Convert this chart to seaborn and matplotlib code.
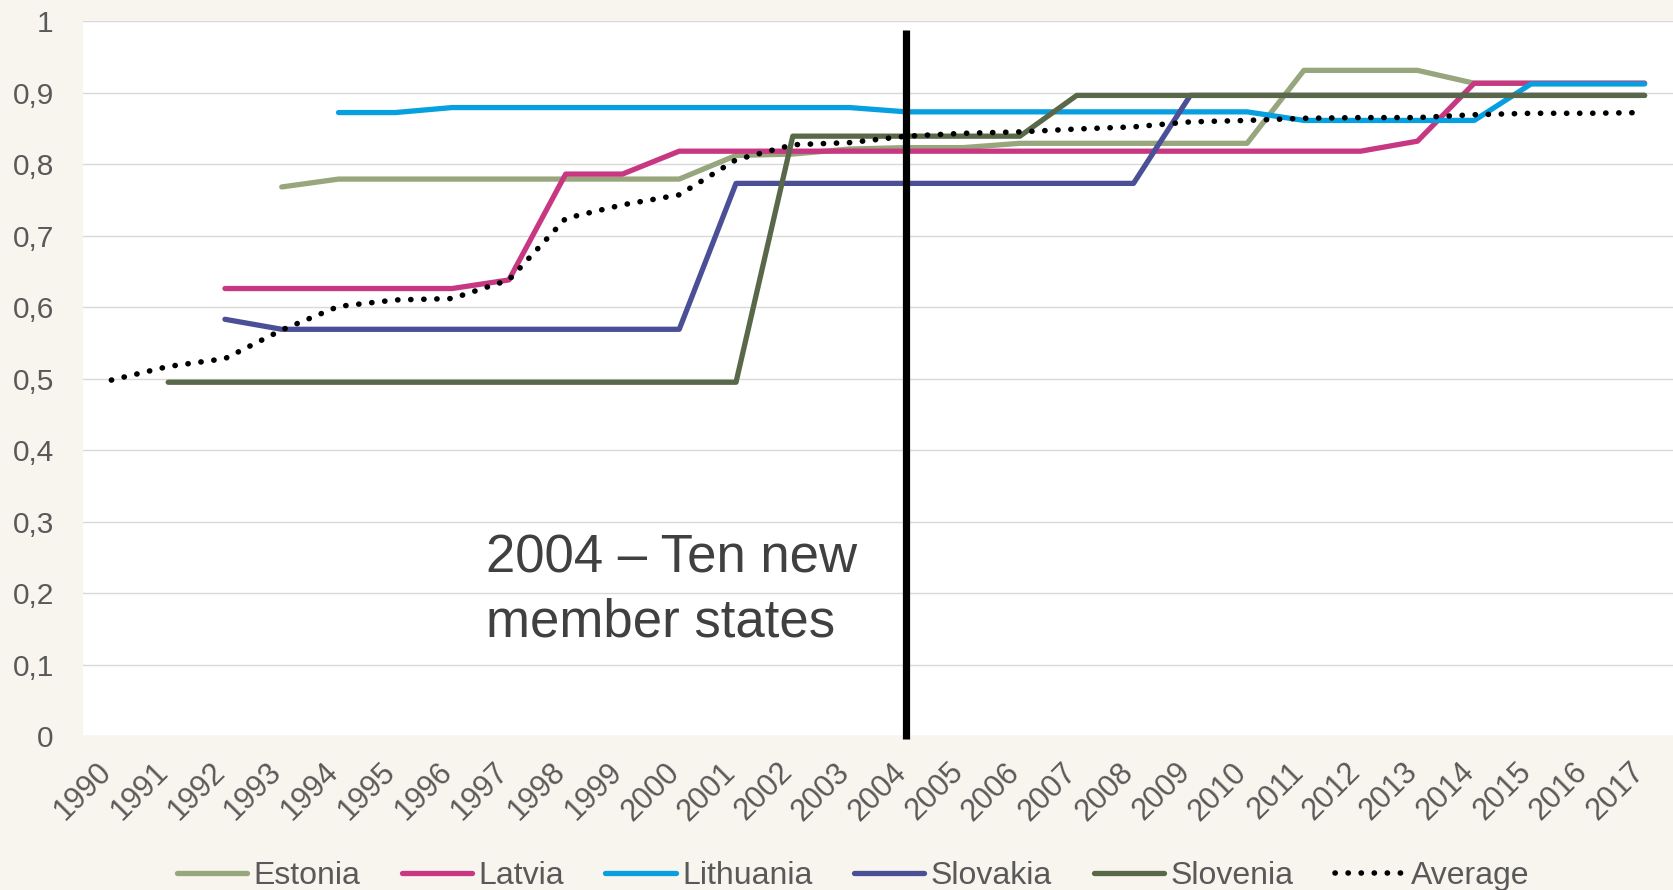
import numpy as np
import pandas as pd
import matplotlib
matplotlib.use("Agg")
import matplotlib.pyplot as plt
import matplotlib.transforms as mtransforms
import seaborn as sns

# ── data ──────────────────────────────────────────────────────
years = list(range(1990, 2018))

estonia = [None, None, None, 0.768, 0.779, 0.779, 0.779, 0.779, 0.779, 0.779,
           0.779, 0.812, 0.814, 0.821, 0.823, 0.823, 0.829, 0.829, 0.829, 0.829,
           0.829, 0.931, 0.931, 0.931, 0.913, 0.913, 0.913, 0.913]
latvia = [None, None, 0.626, 0.626, 0.626, 0.626, 0.626, 0.638, 0.786, 0.786,
          0.818, 0.818, 0.818, 0.818, 0.818, 0.818, 0.818, 0.818, 0.818, 0.818,
          0.818, 0.818, 0.818, 0.832, 0.913, 0.913, 0.913, 0.913]
lithuania = [None, None, None, None, 0.872, 0.872, 0.879, 0.879, 0.879, 0.879,
             0.879, 0.879, 0.879, 0.879, 0.873, 0.873, 0.873, 0.873, 0.873, 0.873,
             0.873, 0.861, 0.861, 0.861, 0.861, 0.912, 0.912, 0.912]
slovakia = [None, None, 0.583, 0.569, 0.569, 0.569, 0.569, 0.569, 0.569, 0.569,
            0.569, 0.773, 0.773, 0.773, 0.773, 0.773, 0.773, 0.773, 0.773, 0.896,
            0.896, 0.896, 0.896, 0.896, 0.896, 0.896, 0.896, 0.896]
slovenia = [None, 0.495, 0.495, 0.495, 0.495, 0.495, 0.495, 0.495, 0.495, 0.495,
            0.495, 0.495, 0.839, 0.839, 0.839, 0.839, 0.839, 0.896, 0.896, 0.896,
            0.896, 0.896, 0.896, 0.896, 0.896, 0.896, 0.896, 0.896]
average = [0.498, 0.517, 0.528, 0.568, 0.601, 0.610, 0.612, 0.638, 0.724, 0.743,
           0.757, 0.806, 0.827, 0.830, 0.839, 0.843, 0.845, 0.849, 0.852, 0.859,
           0.861, 0.864, 0.865, 0.865, 0.869, 0.871, 0.871, 0.872]

countries = ["Estonia", "Latvia", "Lithuania", "Slovakia", "Slovenia"]
series = [estonia, latvia, lithuania, slovakia, slovenia]
colors = ["#98A67E", "#C83882", "#06A0E0", "#4A4F96", "#5A684A"]

y_ticks = [0, 0.1, 0.2, 0.3, 0.4, 0.5, 0.6, 0.7, 0.8, 0.9, 1]
y_labels = ["0", "0,1", "0,2", "0,3", "0,4", "0,5", "0,6", "0,7", "0,8", "0,9", "1"]

event_year = 2004
event_text = "2004 – Ten new\nmember states"

# long-form frame for seaborn
df = pd.DataFrame({"year": years, **dict(zip(countries, series))})
long_df = df.melt(id_vars="year", var_name="country", value_name="value").dropna()
avg_df = pd.DataFrame({"year": years, "value": average})

# ── style ─────────────────────────────────────────────────────
BG = "#F8F4EE"
TXT = "#595959"
sns.set_theme(style="white")
plt.rcParams.update({
    "figure.facecolor": BG,
    "axes.facecolor": "white",
    "text.color": TXT,
    "xtick.color": TXT,
    "ytick.color": TXT,
})
plt.rcParams["font.family"] = ["Liberation Sans", "DejaVu Sans"]

fig = plt.figure(figsize=(16.73, 8.90), dpi=100)
ax = fig.add_axes([0.0496, 0.1727, 0.9504, 0.8037])

sns.lineplot(data=long_df, x="year", y="value", hue="country",
             hue_order=countries, palette=colors, linewidth=3.8,
             solid_capstyle="round", solid_joinstyle="round",
             legend=False, ax=ax)
sns.lineplot(data=avg_df, x="year", y="value", color="black",
             linewidth=4.0, dashes=False, legend=False, ax=ax)
avg_line = ax.get_lines()[-1]
avg_line.set_linestyle((0, (0.05, 2.3)))
avg_line.set_dash_capstyle("round")

# event marker
ax.vlines(event_year, -0.004, 0.988, color="black", linewidth=5.2,
          clip_on=False, zorder=5)
# va="baseline" anchors the last line's baseline
ax.text(1996.6, 0.139, event_text, fontsize=38, color="#404040",
        ha="left", va="baseline", linespacing=1.36)

# axes
ax.set_xlim(years[0] - 0.5, years[-1] + 0.5)
ax.set_ylim(0, 1)
ax.set_xticks(years)
ax.set_xticklabels([str(y) for y in years], rotation=45, ha="right")
ax.set_yticks(y_ticks)
ax.set_yticklabels(y_labels)
ax.tick_params(axis="x", length=0, pad=15, labelsize=22)
ax.tick_params(axis="y", length=0, pad=21, labelsize=21.5)
# nudge rotated year labels a little to the right, like Excel does
shift = mtransforms.ScaledTranslation(6 / 100, 0, fig.dpi_scale_trans)
for lbl in ax.get_xticklabels():
    lbl.set_transform(lbl.get_transform() + shift)
ax.set_xlabel("")
ax.set_ylabel("")
ax.grid(axis="y", color="#D9D9D9", linewidth=1.0)
ax.set_axisbelow(True)
for side in ["top", "right", "left", "bottom"]:
    ax.spines[side].set_visible(False)

# legend at the bottom, slightly cut by the figure edge
handles = ax.get_lines()[:6]
leg = fig.legend(handles, countries + ["Average"], loc="center",
                 bbox_to_anchor=(0.510, 1 - 876 / 890), ncol=6, frameon=False,
                 fontsize=23, handlelength=2.2, handletextpad=0.2,
                 columnspacing=1.3, labelcolor=TXT)

fig.savefig("out.png", dpi=100, facecolor=BG)
